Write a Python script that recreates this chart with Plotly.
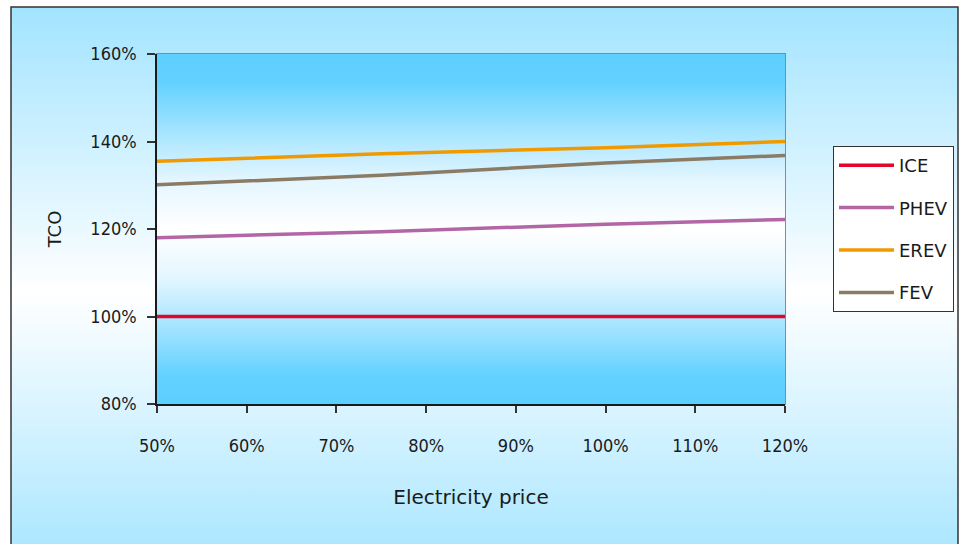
import base64
import plotly.graph_objects as go

# ---- data ----
electricity_price = [50, 75, 100, 120]          # % of base electricity price
ice = [100.0, 100.0, 100.0, 100.0]
phev = [118.0, 119.4, 121.1, 122.2]
erev = [135.5, 137.2, 138.6, 140.0]
fev = [130.1, 132.3, 135.1, 136.8]
series_names = ["ICE", "PHEV", "EREV", "FEV"]
series_values = [ice, phev, erev, fev]
series_colors = ["#e2062c", "#b266a6", "#f09a00", "#8b7b64"]
x_ticks = [50, 60, 70, 80, 90, 100, 110, 120]
x_tick_labels = ["50%", "60%", "70%", "80%", "90%", "100%", "110%", "120%"]
y_ticks = [80, 100, 120, 140, 160]
y_tick_labels = ["80%", "100%", "120%", "140%", "160%"]

W, H = 961, 544
L, R, T, B = 157, 785, 54, 404  # plot area in pixels


def px_x(p):
    return (p - L) / (R - L)


def px_y(p):
    return (B - p) / (B - T)


def svg_gradient(stops):
    st = "".join(
        f'<stop offset="{o}" stop-color="{c}"/>' for o, c in stops
    )
    svg = (
        '<svg xmlns="http://www.w3.org/2000/svg" width="100" height="100" '
        'preserveAspectRatio="none" viewBox="0 0 100 100">'
        '<defs><linearGradient id="g" x1="0" y1="0" x2="0" y2="1">'
        f"{st}</linearGradient></defs>"
        '<rect x="0" y="0" width="100" height="100" fill="url(#g)"/></svg>'
    )
    return "data:image/svg+xml;base64," + base64.b64encode(svg.encode()).decode()


outer_src = svg_gradient([
    (0, "#a2e4ff"), (0.5, "#ffffff"), (1, "#a2e4ff"),
])
inner_src = svg_gradient([
    (0, "#5ccfff"), (0.08, "#62d1ff"), (0.22, "#a4e4ff"),
    (0.36, "#e4f6ff"), (0.5, "#ffffff"),
    (0.64, "#e4f6ff"), (0.78, "#a4e4ff"), (0.92, "#62d1ff"), (1, "#5ccfff"),
])

fig = go.Figure()
for i, (name, vals, col) in enumerate(zip(series_names, series_values, series_colors)):
    fig.add_trace(go.Scatter(
        x=electricity_price, y=vals, mode="lines", name=name,
        line=dict(color=col, width=3.5), legendgroup=f"g{i}",
    ))

tick_font = dict(family="DejaVu Sans Condensed, DejaVu Sans, sans-serif", size=18, color="#1a1a1a")
ytitle_font = dict(family="DejaVu Sans, sans-serif", size=18, color="#1a1a1a")
xtitle_font = dict(family="DejaVu Sans, sans-serif", size=20, color="#1a1a1a")

fig.update_layout(
    width=W, height=H,
    margin=dict(l=L, r=W - R, t=T, b=H - B, autoexpand=False),
    paper_bgcolor="white",
    plot_bgcolor="rgba(0,0,0,0)",
    showlegend=True,
    legend=dict(
        x=px_x(833), y=px_y(146), xanchor="left", yanchor="top",
        bgcolor="white", bordercolor="#333333", borderwidth=1,
        font=dict(family="DejaVu Sans, sans-serif", size=18, color="#1a1a1a"),
        tracegroupgap=16, traceorder="grouped", itemwidth=55,
    ),
    images=[
        dict(source=outer_src, xref="paper", yref="paper",
             x=px_x(11), y=px_y(7), sizex=(958 - 11) / (R - L),
             sizey=(580 - 7) / (B - T), sizing="stretch",
             xanchor="left", yanchor="top", layer="below"),
        dict(source=inner_src, xref="x domain", yref="y domain",
             x=0, y=1, sizex=1, sizey=1, sizing="stretch",
             xanchor="left", yanchor="top", layer="below"),
    ],
    shapes=[
        dict(type="rect", xref="paper", yref="paper",
             x0=px_x(11), x1=px_x(958), y0=px_y(7), y1=px_y(600),
             line=dict(color="#333333", width=1.5), layer="below"),
        dict(type="rect", xref="x domain", yref="y domain",
             x0=0, x1=1, y0=0, y1=1,
             line=dict(color="#8a8a8a", width=2), layer="below"),
    ],
    xaxis=dict(
        range=[50, 120], tickmode="array", tickvals=x_ticks, ticktext=x_tick_labels,
        showgrid=False, zeroline=False,
        showline=True, linecolor="#1a1a1a", linewidth=1.5,
        ticks="outside", ticklen=7, tickcolor="#333333", tickwidth=1.5,
        tickfont=tick_font, ticklabelstandoff=18,
        title=dict(text="Electricity price", font=xtitle_font, standoff=35),
    ),
    yaxis=dict(
        range=[80, 160], tickmode="array", tickvals=y_ticks, ticktext=y_tick_labels,
        showgrid=False, zeroline=False,
        showline=True, linecolor="#1a1a1a", linewidth=1.5,
        ticks="outside", ticklen=8, tickcolor="#333333", tickwidth=1.5,
        tickfont=tick_font, ticklabelstandoff=7,
        title=dict(text="TCO", font=ytitle_font, standoff=24),
    ),
)

fig.write_html("out.html")
